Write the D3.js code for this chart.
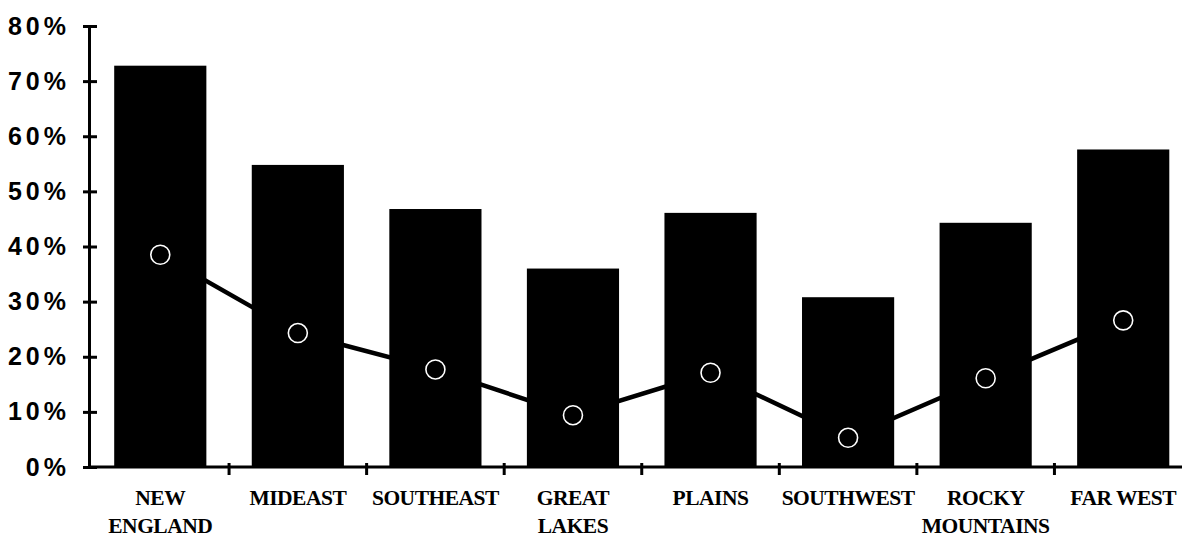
<!DOCTYPE html>
<html>
<head>
<meta charset="utf-8">
<script src="https://cdn.jsdelivr.net/npm/d3@7/dist/d3.min.js"></script>
<style>
  html, body { margin: 0; padding: 0; background: #fff; }
  svg { display: block; }
</style>
</head>
<body>
<svg id="chart" width="1182" height="537"></svg>
<script>
// Regional shares, two series: bars and an overlaid line with ring markers
const categories = [
  ["NEW", "ENGLAND"],
  ["MIDEAST"],
  ["SOUTHEAST"],
  ["GREAT", "LAKES"],
  ["PLAINS"],
  ["SOUTHWEST"],
  ["ROCKY", "MOUNTAINS"],
  ["FAR WEST"]
];
const barValues  = [0.728, 0.548, 0.468, 0.360, 0.461, 0.308, 0.443, 0.576];
const lineValues = [0.385, 0.243, 0.177, 0.094, 0.171, 0.053, 0.161, 0.266];
const tickValues = [0, 0.1, 0.2, 0.3, 0.4, 0.5, 0.6, 0.7, 0.8];
const tickLabels = ["0%", "10%", "20%", "30%", "40%", "50%", "60%", "70%", "80%"];

const svg = d3.select("#chart");
const keys = categories.map(c => c.join(" "));

const xLeft = 91.5, xRight = 1192;
const x = d3.scaleBand()
  .domain(keys)
  .range([xLeft, xRight])
  .paddingInner(0.33)
  .paddingOuter(0.165);

const y = d3.scaleLinear().domain([0, 0.8]).range([467, 26]);
const axisX = 89;

// bars
svg.append("g")
  .selectAll("rect")
  .data(barValues)
  .join("rect")
  .attr("x", (d, i) => x(keys[i]))
  .attr("y", d => y(d))
  .attr("width", x.bandwidth())
  .attr("height", d => y(0) - y(d))
  .attr("fill", "#000");

// line series
const cx = i => x(keys[i]) + x.bandwidth() / 2;
svg.append("path")
  .datum(lineValues)
  .attr("d", d3.line().x((d, i) => cx(i)).y(d => y(d)))
  .attr("fill", "none")
  .attr("stroke", "#000")
  .attr("stroke-width", 4.5);

svg.append("g")
  .selectAll("circle")
  .data(lineValues)
  .join("circle")
  .attr("cx", (d, i) => cx(i))
  .attr("cy", d => y(d))
  .attr("r", 9.5)
  .attr("fill", "none")
  .attr("stroke", "#fff")
  .attr("stroke-width", 1.6);

// y axis
const yAxis = svg.append("g")
  .attr("transform", `translate(${axisX},0)`)
  .call(d3.axisLeft(y)
    .tickValues(tickValues)
    .tickFormat((d, i) => tickLabels[i])
    .tickSizeInner(6)
    .tickSizeOuter(0)
    .tickPadding(13));
yAxis.select(".domain").attr("stroke", "#000").attr("stroke-width", 3);
yAxis.selectAll(".tick line")
  .attr("x1", -6).attr("x2", 8)
  .attr("stroke", "#000").attr("stroke-width", 3);
yAxis.selectAll(".tick text")
  .attr("fill", "#000")
  .style("font-family", "'Liberation Sans', Arial, sans-serif")
  .style("font-size", "25px")
  .style("font-weight", "bold")
  .style("letter-spacing", "4px");

// x axis baseline and category boundary ticks
svg.append("line")
  .attr("x1", axisX).attr("x2", 1182)
  .attr("y1", y(0)).attr("y2", y(0))
  .attr("stroke", "#000").attr("stroke-width", 3);

const step = x.step();
svg.append("g")
  .selectAll("line")
  .data(d3.range(1, keys.length))
  .join("line")
  .attr("x1", i => xLeft + i * step)
  .attr("x2", i => xLeft + i * step)
  .attr("y1", y(0) - 4)
  .attr("y2", y(0) + 8)
  .attr("stroke", "#000")
  .attr("stroke-width", 3);

// category labels
const labels = svg.append("g")
  .selectAll("text")
  .data(categories)
  .join("text")
  .attr("x", (d, i) => cx(i))
  .attr("y", 505)
  .attr("text-anchor", "middle")
  .attr("fill", "#000")
  .style("font-family", "'Liberation Serif', 'Times New Roman', serif")
  .style("font-size", "21.5px")
  .style("font-weight", "bold")
  .style("letter-spacing", "-0.5px");
labels.selectAll("tspan")
  .data(d => d)
  .join("tspan")
  .attr("x", function () { return this.parentNode.getAttribute("x"); })
  .attr("dy", (d, i) => i === 0 ? 0 : 28)
  .text(d => d);
</script>
</body>
</html>
